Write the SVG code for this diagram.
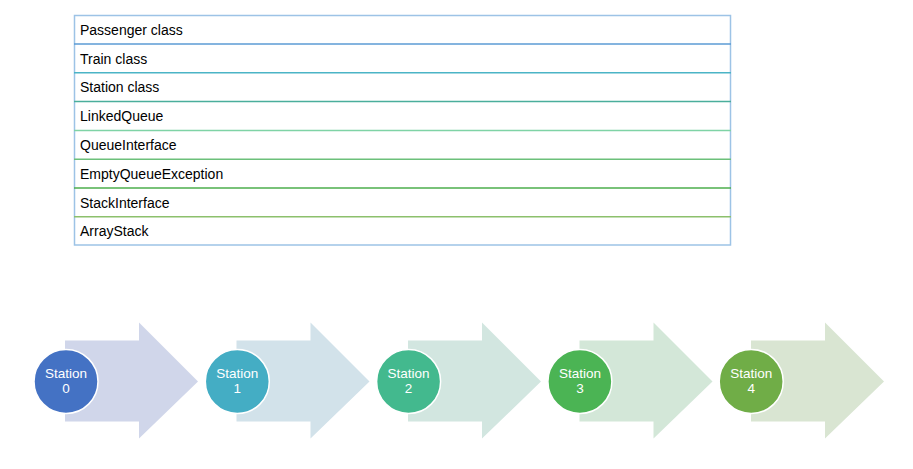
<svg xmlns="http://www.w3.org/2000/svg" width="913" height="469" viewBox="0 0 913 469">
<style>
.t{font-family:"Liberation Sans",Arial,sans-serif;font-size:14px;fill:#000}
.s{font-family:"Liberation Sans",Arial,sans-serif;font-size:13.5px;fill:#fff;text-anchor:middle}
.c{stroke:#fff;stroke-width:1.5}
</style>
<defs>
<path id="arr" d="M0,-41 H74 V-59 L133,0 L74,57 V40 H0 Z"/>
</defs>
<rect width="913" height="469" fill="#fff"/>
<g id="table">
<rect x="74.5" y="15.5" width="656" height="229.5" fill="#fff" stroke="#9dc3e6" stroke-width="1.5"/>
<line x1="74" y1="44" x2="731" y2="44" stroke="#5b9bd5" stroke-width="1.5"/>
<line x1="74" y1="72.8" x2="731" y2="72.8" stroke="#4bb4c6" stroke-width="1.5"/>
<line x1="74" y1="101.6" x2="731" y2="101.6" stroke="#4aae9c" stroke-width="1.5"/>
<line x1="74" y1="130.4" x2="731" y2="130.4" stroke="#7fd3a6" stroke-width="1.5"/>
<line x1="74" y1="159.2" x2="731" y2="159.2" stroke="#6cc07a" stroke-width="1.5"/>
<line x1="74" y1="188" x2="731" y2="188" stroke="#4cae4c" stroke-width="1.5"/>
<line x1="74" y1="216.8" x2="731" y2="216.8" stroke="#8cc06c" stroke-width="1.5"/>
<text class="t" x="80" y="35">Passenger class</text>
<text class="t" x="80" y="63.5">Train class</text>
<text class="t" x="80" y="92.3">Station class</text>
<text class="t" x="80" y="121.1">LinkedQueue</text>
<text class="t" x="80" y="149.9">QueueInterface</text>
<text class="t" x="80" y="178.7">EmptyQueueException</text>
<text class="t" x="80" y="207.5">StackInterface</text>
<text class="t" x="80" y="236.3">ArrayStack</text>
</g>
<g id="station0">
<use href="#arr" x="65" y="381.5" fill="#d0d6ea"/>
<circle class="c" cx="66" cy="381.5" r="32" fill="#4472c4"/>
<text class="s" x="66" y="378.3">Station</text>
<text class="s" x="66" y="393.3">0</text>
</g>
<g id="station1">
<use href="#arr" x="236.5" y="381.5" fill="#d2e2ea"/>
<circle class="c" cx="237.3" cy="381.5" r="32" fill="#44adc4"/>
<text class="s" x="237.3" y="378.3">Station</text>
<text class="s" x="237.3" y="393.3">1</text>
</g>
<g id="station2">
<use href="#arr" x="408" y="381.5" fill="#d2e6e0"/>
<circle class="c" cx="408.6" cy="381.5" r="32" fill="#43b98e"/>
<text class="s" x="408.6" y="378.3">Station</text>
<text class="s" x="408.6" y="393.3">2</text>
</g>
<g id="station3">
<use href="#arr" x="579.5" y="381.5" fill="#d3e7d8"/>
<circle class="c" cx="579.9" cy="381.5" r="32" fill="#4bb454"/>
<text class="s" x="579.9" y="378.3">Station</text>
<text class="s" x="579.9" y="393.3">3</text>
</g>
<g id="station4">
<use href="#arr" x="751" y="381.5" fill="#d9e5d2"/>
<circle class="c" cx="751.2" cy="381.5" r="32" fill="#70ad47"/>
<text class="s" x="751.2" y="378.3">Station</text>
<text class="s" x="751.2" y="393.3">4</text>
</g>
<g id="connectors"></g>
</svg>
